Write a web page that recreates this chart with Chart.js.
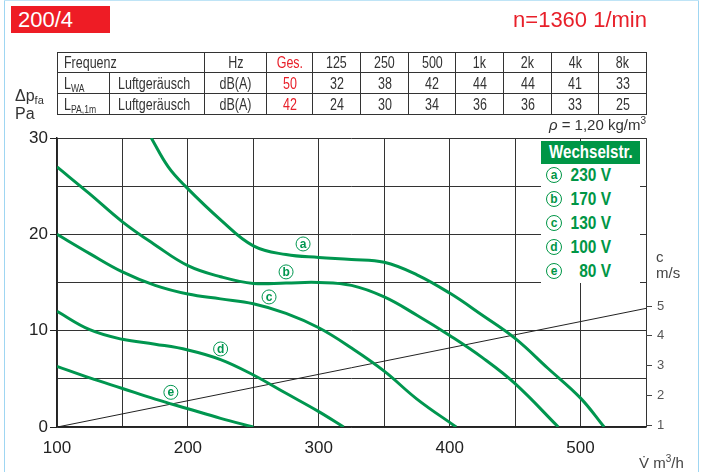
<!DOCTYPE html>
<html>
<head>
<meta charset="utf-8">
<script src="https://cdn.jsdelivr.net/npm/chart.js@4"></script>
<style>
  body { margin: 0; background: #fff; font-family: "Liberation Sans", Arial, sans-serif; }
  #wrap { position: relative; width: 704px; height: 472px; overflow: hidden; }
  #c { position: absolute; left: 0; top: 0; }
  .abs { position: absolute; }
  .sq { display: inline-block; transform: scaleX(0.78); transform-origin: center; white-space: nowrap; }
  .sql { display: inline-block; transform: scaleX(0.78); transform-origin: left; white-space: nowrap; }
  #frameL { left: 4px; top: 0; width: 1px; height: 472px; background: #9fd6f2; }
  #frameR { left: 698px; top: 0; width: 1px; height: 472px; background: #9fd6f2; }
  #frameT { left: 4px; top: 0; width: 695px; height: 1px; background: #bfe4f6; }
  #badge { left: 11px; top: 6px; width: 99px; height: 27px; background: #ee1c25; color: #fff; font-size: 22px; line-height: 27px; padding-left: 7px; box-sizing: border-box; }
  #speed { right: 57px; top: 6px; color: #e8202a; font-size: 22px; line-height: 27px; }
  table { position: absolute; left: 57px; top: 52px; border-collapse: collapse; table-layout: fixed; width: 589px; font-size: 16px; color: #333; }
  td { border: 1px solid #333; padding: 0; height: 19px; line-height: 19px; text-align: center; white-space: nowrap; overflow: hidden; }
  td.l { text-align: left; padding-left: 6px; }
  td.red { color: #e8202a; }
  sub { font-size: 11px; vertical-align: -3px; line-height: 0; }
  #dp { left: 15px; top: 87px; font-size: 16px; color: #333; line-height: 18px; }
  #dp sub { font-size: 11px; }
  #rho { right: 58px; top: 115px; font-size: 15px; color: #333; }
  #legend { left: 541px; top: 141px; width: 99px; height: 142px; background: #fff; }
  #lhead { left: 0; top: 0; width: 99px; height: 23px; background: #009646; color: #fff; font-weight: bold; font-size: 18px; line-height: 23px; text-align: center; }
  #lhead span { display: inline-block; transform: scaleX(0.84); }
  .li { left: 0; width: 99px; height: 22px; color: #009646; font-weight: bold; font-size: 18px; line-height: 22px; }
  .li .circ { position: absolute; left: 5px; top: 3px; width: 14px; height: 14px; border: 1px solid #009646; border-radius: 50%; font-size: 12px; line-height: 14px; text-align: center; }
  .li .v { position: absolute; right: 29px; top: 0; transform: scaleX(0.86); transform-origin: right; white-space: nowrap; }
  #cunit { left: 656px; top: 249px; font-size: 15px; color: #444; line-height: 16px; }
  #vunit { left: 639px; top: 453px; font-size: 15px; color: #444; }
</style>
</head>
<body>
<div id="wrap">
  <canvas id="c" width="704" height="472"></canvas>
  <div id="frameL" class="abs"></div>
  <div id="frameR" class="abs"></div>
  <div id="frameT" class="abs"></div>
  <div id="badge" class="abs">200/4</div>
  <div id="speed" class="abs">n=1360 1/min</div>
  <table>
    <colgroup>
      <col style="width:52px"><col style="width:95px"><col style="width:62px"><col style="width:46px">
      <col style="width:48px"><col style="width:48px"><col style="width:47px"><col style="width:48px"><col style="width:48px"><col style="width:47px"><col style="width:48px">
    </colgroup>
    <tr id="rowFreq"><td class="l" colspan="2"><span class="sql">Frequenz</span></td><td><span class="sq">Hz</span></td><td class="red"><span class="sq">Ges.</span></td></tr>
    <tr id="rowLwa"><td class="l" style="height:20px"><span class="sql">L<sub>WA</sub></span></td><td class="l" style="padding-left:8px"><span class="sql">Luftgeräusch</span></td><td><span class="sq">dB(A)</span></td></tr>
    <tr id="rowLpa"><td class="l" style="height:20px"><span class="sql">L<sub>PA,1m</sub></span></td><td class="l" style="padding-left:8px"><span class="sql">Luftgeräusch</span></td><td><span class="sq">dB(A)</span></td></tr>
  </table>
  <div id="dp" class="abs">Δp<sub>fa</sub><br>Pa</div>
  <div id="rho" class="abs"><i>ρ</i> = 1,20 kg/m<sup style="font-size:10px">3</sup></div>
  <div id="legend" class="abs">
    <div id="lhead" class="abs"><span>Wechselstr.</span></div>
  </div>
  <div id="cunit" class="abs">c<br>m/s</div>
  <div id="vunit" class="abs">V&#775; m<sup style="font-size:10px">3</sup>/h</div>
</div>
<script>
// Geräuschtabelle
const freqs = ['125', '250', '500', '1k', '2k', '4k', '8k'];
const lwaGes = 50;
const lwaValues = [32, 38, 42, 44, 44, 41, 33];
const lpaGes = 42;
const lpaValues = [24, 30, 34, 36, 36, 33, 25];

// Kennlinien (V in m3/h, dp in Pa)
const voltages = ['230 V', '170 V', '130 V', '100 V', '80 V'];
const curveLetters = ['a', 'b', 'c', 'd', 'e'];
const curveA_V = [172, 185, 198, 225, 250, 275, 300, 325, 350, 375, 400, 425, 450, 475, 500, 518];
const curveA_P = [30, 27, 25, 21.5, 18.8, 17.9, 17.6, 17.4, 17.1, 15.8, 13.9, 11.6, 9.2, 6.1, 3.0, 0];
const curveB_V = [100, 125, 150, 175, 200, 225, 250, 275, 300, 325, 350, 375, 400, 425, 450, 483];
const curveB_P = [27, 24.2, 21.3, 18.9, 16.75, 15.6, 14.9, 14.95, 15.0, 14.7, 13.5, 11.6, 9.5, 7.2, 4.5, 0];
const curveC_V = [100, 125, 150, 175, 200, 225, 250, 275, 300, 325, 350, 375, 405];
const curveC_P = [20, 18.0, 16.1, 14.7, 13.8, 13.3, 12.8, 11.8, 10.3, 8.2, 5.8, 2.9, 0];
const curveD_V = [100, 125, 150, 175, 200, 225, 250, 275, 300, 319];
const curveD_P = [12.0, 10.1, 9.1, 8.6, 8.0, 7.0, 5.4, 3.5, 1.6, 0];
const curveE_V = [100, 125, 150, 175, 200, 225, 250];
const curveE_P = [6.3, 5.1, 4.0, 2.9, 1.9, 0.9, 0];

// Kurvenbeschriftung (Lage der Buchstaben)
const letterV = [288, 275, 262, 225, 187];
const letterP = [19.0, 16.1, 13.5, 8.1, 3.6];

// Luftgeschwindigkeit c (m/s) ueber V
const velocityV = [100, 550];
const velocityC = [0.93, 4.92];
const velocityTicks = [1, 2, 3, 4, 5];

const green = '#00964f';

// Tabelle fuellen
function addCells(rowId, values, red) {
    const row = document.getElementById(rowId);
    values.forEach(v => {
        const td = document.createElement('td');
        if (red) td.className = 'red';
        td.innerHTML = '<span class="sq">' + v + '</span>';
        row.appendChild(td);
    });
}
addCells('rowFreq', freqs, false);
addCells('rowLwa', [lwaGes], true);
addCells('rowLwa', lwaValues, false);
addCells('rowLpa', [lpaGes], true);
addCells('rowLpa', lpaValues, false);

// Legende
const legend = document.getElementById('legend');
voltages.forEach((v, i) => {
    const item = document.createElement('div');
    item.className = 'abs li';
    item.style.top = (23 + i * 24) + 'px';
    item.innerHTML = '<span class="circ">' + curveLetters[i] + '</span><span class="v">' + v + '</span>';
    legend.appendChild(item);
});

function toPoints(xs, ys) {
    return xs.map((x, i) => ({ x: x, y: ys[i] }));
}

const curves = [
    toPoints(curveA_V, curveA_P),
    toPoints(curveB_V, curveB_P),
    toPoints(curveC_V, curveC_P),
    toPoints(curveD_V, curveD_P),
    toPoints(curveE_V, curveE_P)
];

const datasets = curves.map((pts, i) => ({
    label: voltages[i],
    data: pts,
    borderColor: green,
    borderWidth: 3,
    pointRadius: 0,
    tension: 0.4,
    yAxisID: 'y'
}));
datasets.push({
    label: 'c',
    data: toPoints(velocityV, velocityC),
    borderColor: '#222',
    borderWidth: 1,
    pointRadius: 0,
    yAxisID: 'c'
});

// Buchstaben an den Kurven
const letterPlugin = {
    id: 'letters',
    afterDatasetsDraw(chart) {
        const ctx = chart.ctx;
        const xs = chart.scales.x, ys = chart.scales.y;
        ctx.save();
        letterV.forEach((v, i) => {
            const px = xs.getPixelForValue(v);
            const py = ys.getPixelForValue(letterP[i]);
            ctx.beginPath();
            ctx.arc(px, py, 7, 0, Math.PI * 2);
            ctx.fillStyle = '#fff';
            ctx.fill();
            ctx.strokeStyle = green;
            ctx.lineWidth = 1;
            ctx.stroke();
            ctx.fillStyle = green;
            ctx.font = 'bold 12px "Liberation Sans", Arial, sans-serif';
            ctx.textAlign = 'center';
            ctx.textBaseline = 'middle';
            ctx.fillText(curveLetters[i], px, py + 0.5);
        });
        ctx.restore();
    }
};

const axisFont = { family: '"Liberation Sans", Arial, sans-serif', size: 17 };

new Chart(document.getElementById('c').getContext('2d'), {
    type: 'line',
    data: { datasets: datasets },
    options: {
        responsive: false,
        animation: false,
        layout: { padding: { top: 138, left: 0, right: 0, bottom: 0 } },
        plugins: { legend: { display: false }, tooltip: { enabled: false } },
        scales: {
            x: {
                type: 'linear',
                min: 100,
                max: 550,
                afterFit: s => { s.height = 45; },
                grid: { color: '#333', lineWidth: 1, drawTicks: false },
                border: { color: '#222', width: 1.5 },
                ticks: {
                    stepSize: 50,
                    autoSkip: false,
                    maxRotation: 0,
                    padding: 11,
                    color: '#222',
                    font: axisFont,
                    callback: v => (v % 100 === 0 && v <= 500) ? v : ''
                }
            },
            y: {
                min: 0,
                max: 30,
                afterFit: s => { s.width = 57; },
                grid: {
                    color: '#333',
                    lineWidth: 1,
                    tickLength: 7,
                    tickColor: c => (c.tick && c.tick.value % 10 === 0) ? '#222' : 'rgba(0,0,0,0)'
                },
                border: { color: '#222', width: 1.5 },
                ticks: {
                    stepSize: 5,
                    padding: 2,
                    color: '#222',
                    font: axisFont,
                    callback: v => v % 10 === 0 ? v : ''
                }
            },
            c: {
                position: 'right',
                min: 0.933,
                max: 10.647,
                afterFit: s => { s.width = 58; },
                afterBuildTicks: s => { s.ticks = velocityTicks.map(v => ({ value: v })); },
                grid: { drawOnChartArea: false, tickLength: 6, color: '#444' },
                border: { display: false },
                ticks: {
                    padding: 5,
                    color: '#555',
                    font: { family: '"Liberation Sans", Arial, sans-serif', size: 13 }
                }
            }
        }
    },
    plugins: [letterPlugin]
});
</script>
</body>
</html>
